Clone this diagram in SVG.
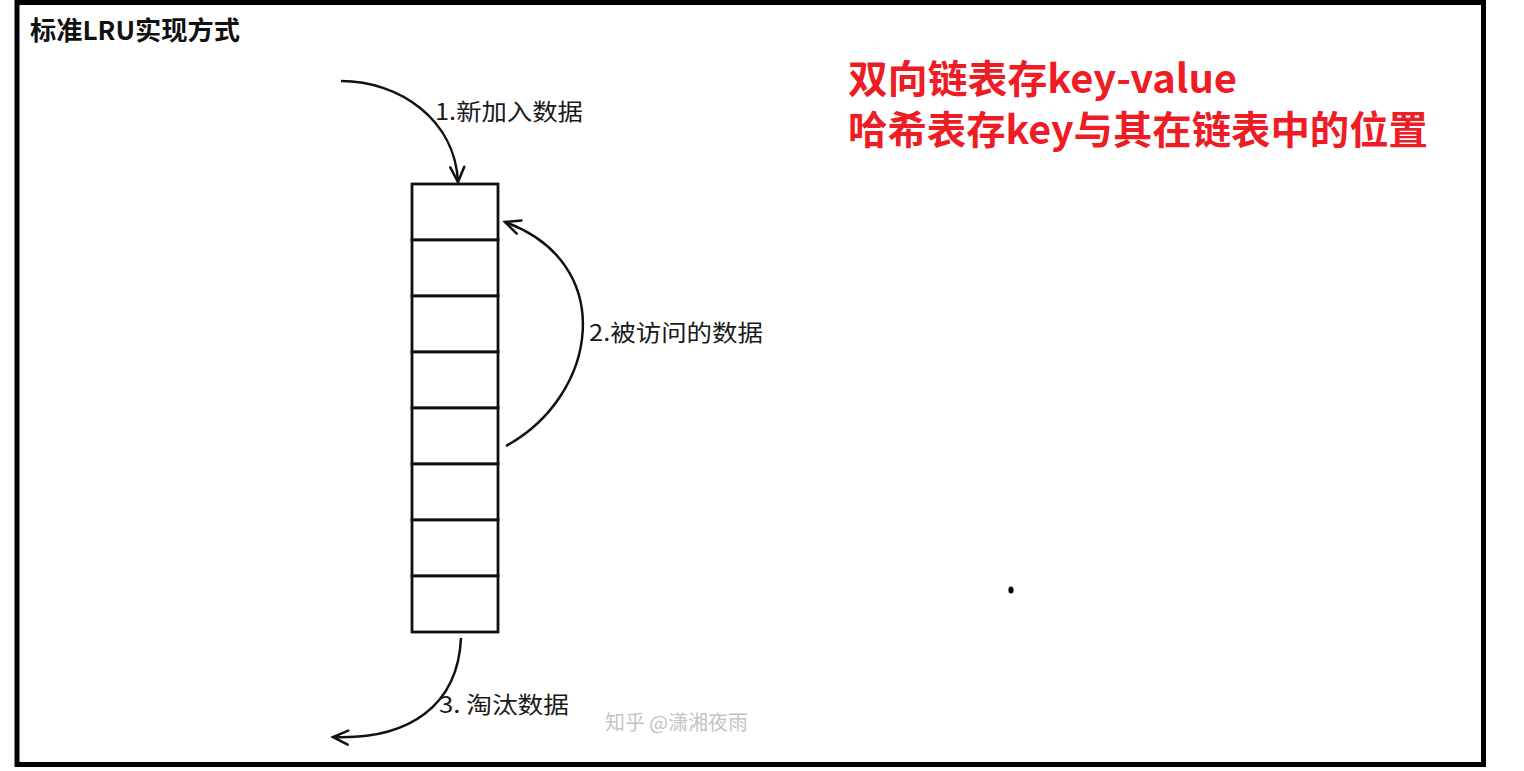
<svg xmlns="http://www.w3.org/2000/svg" width="1524" height="771" viewBox="0 0 1524 771">
  <style>
    .frame { fill: #ffffff; stroke: #000000; stroke-width: 5; }
    .cell { fill: #ffffff; stroke: #111111; stroke-width: 2.8; }
    .conn { fill: none; stroke: #111111; stroke-width: 2.5; marker-end: url(#chev); }
    .lbl { font-family: "Noto Sans CJK SC", "Noto Sans", sans-serif; font-size: 23px; fill: #1a1a1a; }
    .title { font-family: "Noto Sans CJK SC", "Noto Sans", sans-serif; font-size: 26px; font-weight: 700; fill: #111111; }
    .red { font-family: "Noto Sans CJK SC", "Noto Sans", sans-serif; font-size: 39px; font-weight: 700; fill: #ee1c25; }
    .wm { font-family: "Noto Sans CJK SC", "Noto Sans", sans-serif; font-size: 20px; fill: #c4c4c4; }
  </style>
  <defs>
    <marker id="chev" viewBox="-20 -10 24 20" refX="0" refY="0" markerWidth="24" markerHeight="20" markerUnits="userSpaceOnUse" orient="auto">
      <path d="M-15,-7 L0,0 L-15,7" fill="none" stroke="#111111" stroke-width="2.5" stroke-linecap="round"/>
    </marker>
  </defs>

  <rect x="0" y="0" width="1524" height="771" fill="#ffffff"/>
  <rect class="frame" x="17" y="2.5" width="1466.5" height="762"/>

  <g id="title">
    <text class="title" x="30" y="40" textLength="210" lengthAdjust="spacingAndGlyphs">标准LRU实现方式</text>
  </g>

  <g id="list">
    <rect class="cell" x="412" y="184" width="86" height="56"/>
    <rect class="cell" x="412" y="240" width="86" height="56"/>
    <rect class="cell" x="412" y="296" width="86" height="56"/>
    <rect class="cell" x="412" y="352" width="86" height="56"/>
    <rect class="cell" x="412" y="408" width="86" height="56"/>
    <rect class="cell" x="412" y="464" width="86" height="56"/>
    <rect class="cell" x="412" y="520" width="86" height="56"/>
    <rect class="cell" x="412" y="576" width="86" height="56"/>
  </g>

  <g id="connectors">
    <path id="arrow-new" class="conn" d="M341,81 C400,81 455,120 458,182"/>
    <path id="arrow-access" class="conn" d="M506,446 C599,395 618,263 505,222"/>
    <path id="arrow-evict" class="conn" d="M461,638 C458,705 410,740 333,737"/>
  </g>

  <g id="labels">
    <text class="lbl" x="435" y="120" textLength="148" lengthAdjust="spacingAndGlyphs">1.新加入数据</text>
    <text class="lbl" x="589" y="341" textLength="174" lengthAdjust="spacingAndGlyphs">2.被访问的数据</text>
    <text class="lbl" x="439" y="713" textLength="130" lengthAdjust="spacingAndGlyphs">3. 淘汰数据</text>
  </g>

  <g id="note">
    <text class="red" x="848" y="93" textLength="389" lengthAdjust="spacingAndGlyphs">双向链表存key-value</text>
    <text class="red" x="848" y="144" textLength="580" lengthAdjust="spacingAndGlyphs">哈希表存key与其在链表中的位置</text>
  </g>

  <g id="watermark">
    <text class="wm" x="605" y="730" textLength="143" lengthAdjust="spacingAndGlyphs">知乎 @潇湘夜雨</text>
  </g>

  <ellipse id="dot" cx="1011" cy="590" rx="2.6" ry="3.6" fill="#000000"/>
</svg>
